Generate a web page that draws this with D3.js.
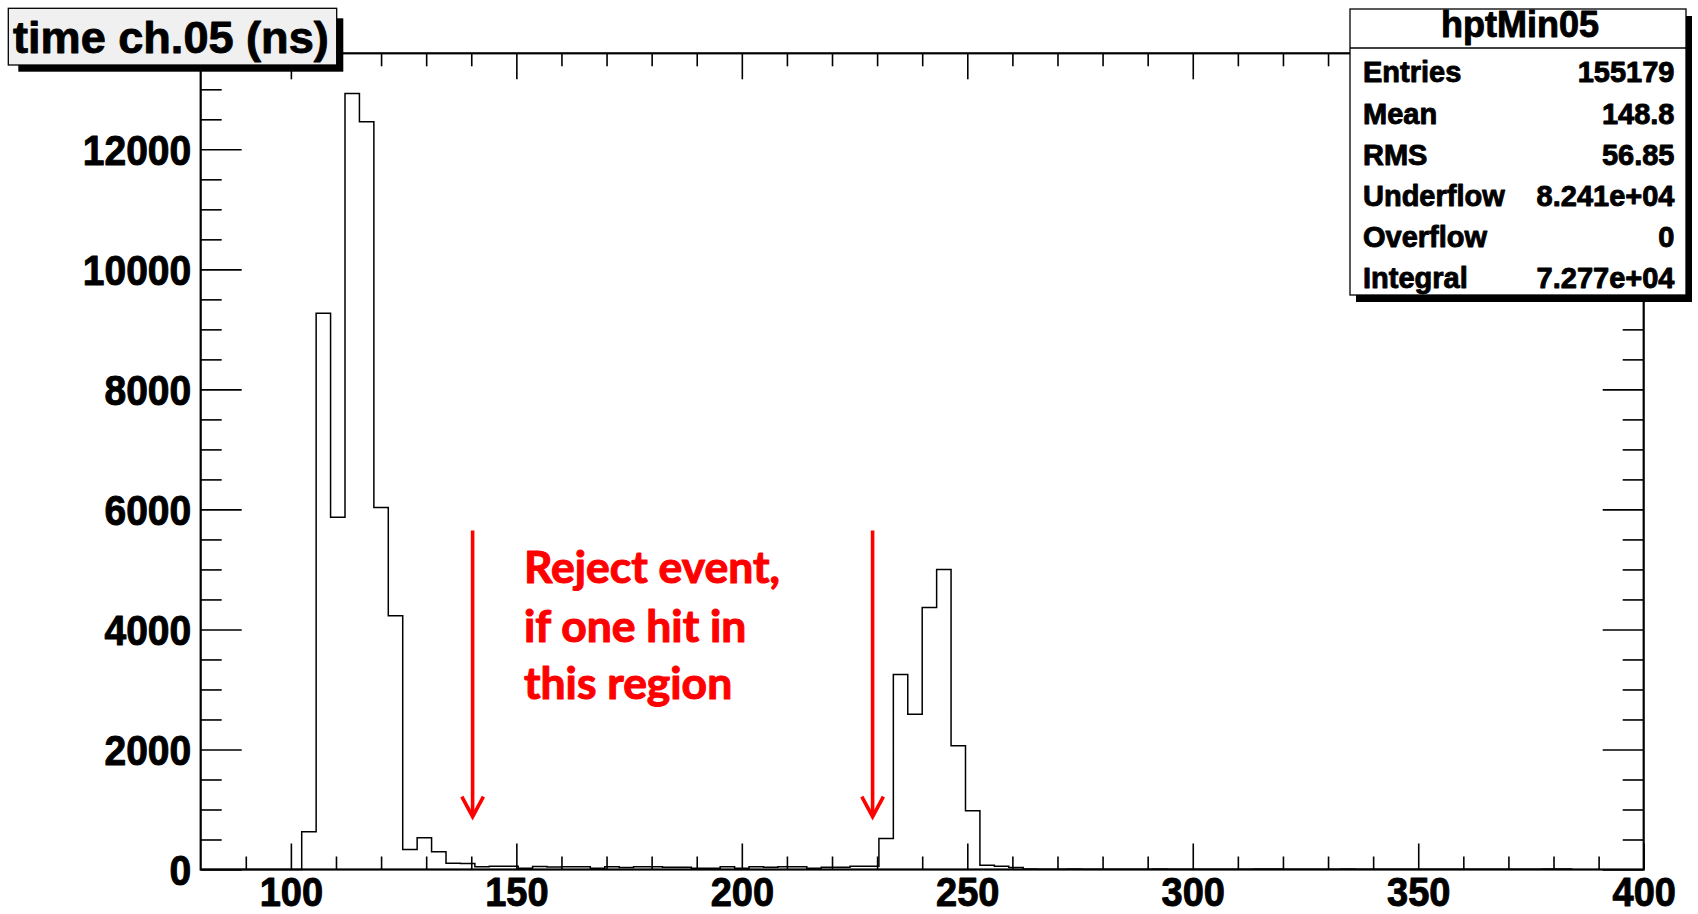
<!DOCTYPE html>
<html><head><meta charset="utf-8">
<script src="https://cdn.jsdelivr.net/npm/d3@7"></script>
<style>body{margin:0;background:#fff}svg{display:block}</style>
</head><body>
<svg id="c" width="1698" height="914"></svg>
<script>
// ---------------- data ----------------
const binStart = 80;      // ns, left edge of first drawn bin
const binWidth = 3.2;     // ns
const counts = [
  0,0,0,0,0,0,0,
  630,9270,5870,12930,12460,6030,4230,333,527,297,103,100,47,55,55,
  20,50,40,45,45,20,45,35,45,45,37,37,20,20,45,20,45,37,45,45,20,37,37,55,55,
  517,3250,2588,4367,5000,2060,977,70,55,35,
  8,6,5,8,4,6,5,3,4,10,5,3,4,6,5,3,8,10,4,3,5,4,10,6,3,4,5,3,4,6,3,5,4,3,5,4,8,10
];
const xDomain = [80, 400];
const yDomain = [0, 13600];
const xMajorTicks = [100,150,200,250,300,350,400];
const xMinorTicks = [90,110,120,130,140,160,170,180,190,210,220,230,240,260,270,280,290,310,320,330,340,360,370,380,390];
const yMajorTicks = [0,2000,4000,6000,8000,10000,12000];
const yMinorTicks = [500,1000,1500,2500,3000,3500,4500,5000,5500,6500,7000,7500,8500,9000,9500,10500,11000,11500,12500,13000,13500];
const titleText = "time ch.05 (ns)";
const statsTitle = "hptMin05";
const statsLabels = ["Entries","Mean","RMS","Underflow","Overflow","Integral"];
const statsValues = ["155179","148.8","56.85","8.241e+04","0","7.277e+04"];
const arrowX = [140.3, 229.0];       // ns
const arrowY = [5650, 880];          // counts: from, to (tip)
const noteLines = ["Reject event,","if one hit in","this region"];

// ---------------- layout ----------------
const svg = d3.select("#c");
const L = 200.7, R = 1643.7, T = 53.3, B = 869.5;
const x = d3.scaleLinear().domain(xDomain).range([L, R]);
const y = d3.scaleLinear().domain(yDomain).range([B, T]);
const FONT = "'Liberation Sans', Arial, Helvetica, sans-serif";
function rootText(sel, size) {
  return sel.style("font-family", FONT).style("font-weight", "bold").style("font-size", size + "px")
    .attr("fill", "#000").attr("stroke", "#000").attr("stroke-width", 0.9).attr("stroke-linejoin", "round");
}

// histogram
const pts = [[binStart, 0]];
counts.forEach((c, i) => {
  const x0 = binStart + i * binWidth, x1 = x0 + binWidth;
  pts.push([x0, c], [x1, c]);
});
pts.push([binStart + counts.length * binWidth, 0]);
svg.append("path")
  .attr("d", d3.line().x(d => x(d[0])).y(d => y(d[1]))(pts))
  .attr("fill", "none").attr("stroke", "#000").attr("stroke-width", 1.5);

// axes
function axisG(gen, tx, ty, vals, size, labels) {
  const a = gen.tickValues(vals).tickSizeInner(size).tickSizeOuter(0);
  a.tickFormat(labels ? d3.format("d") : "");
  const g = svg.append("g").attr("transform", `translate(${tx},${ty})`).call(a);
  g.select(".domain").remove();
  g.selectAll(".tick line").attr("stroke", "#000").attr("stroke-width", 1.6);
  return g;
}
const xb = axisG(d3.axisBottom(x), 0, B, xMajorTicks, -26, true);
axisG(d3.axisBottom(x), 0, B, xMinorTicks, -13, false);
axisG(d3.axisTop(x), 0, T, xMajorTicks, -26, false);
axisG(d3.axisTop(x), 0, T, xMinorTicks, -13, false);
const yl = axisG(d3.axisLeft(y), L, 0, yMajorTicks, -41, true);
axisG(d3.axisLeft(y), L, 0, yMinorTicks, -21, false);
axisG(d3.axisRight(y), R, 0, yMajorTicks, -41, false);
axisG(d3.axisRight(y), R, 0, yMinorTicks, -21, false);

rootText(xb.selectAll("text").attr("y", null).attr("dy", null)
  .attr("transform", "translate(0,36.5) scale(1,1.07)")
  .attr("text-anchor", "middle"), 38);
rootText(yl.selectAll("text").attr("x", null).attr("dy", null)
  .attr("transform", "translate(-9.5,15) scale(1,1.09)")
  .attr("text-anchor", "end"), 39);

// frame
svg.append("rect").attr("x", L).attr("y", T).attr("width", R - L).attr("height", B - T)
  .attr("fill", "none").attr("stroke", "#000").attr("stroke-width", 2.2);

// red annotation arrows
arrowX.forEach(v => {
  const ax = x(v), y0 = y(arrowY[0]), y1 = y(arrowY[1]);
  svg.append("line").attr("x1", ax).attr("x2", ax).attr("y1", y0).attr("y2", y1 - 2)
    .attr("stroke", "#ff0000").attr("stroke-width", 3.6);
  svg.append("path").attr("d", `M${ax - 10.8},${y1 - 20}L${ax},${y1}L${ax + 10.8},${y1 - 20}`)
    .attr("fill", "none").attr("stroke", "#ff0000").attr("stroke-width", 3.6).attr("stroke-linejoin", "miter");
});
// red note text
const noteG = svg.append("g");
const noteBase = [583.3, 641.7, 699.3];
const noteTexts = noteLines.map((s, i) => noteG.append("text")
  .attr("x", 524).attr("y", noteBase[i]).text(s)
  .style("font-family", "Lato, 'Open Sans', sans-serif").style("font-weight", "bold")
  .style("font-size", "40px").attr("fill", "#ff0000")
  .attr("stroke", "#ff0000").attr("stroke-width", 1.1).attr("stroke-linejoin", "round"));
const w0 = noteTexts[0].node().getComputedTextLength();
const fs = 40 * 256 / w0;
noteTexts.forEach(t => t.style("font-size", fs + "px"));

// title box
svg.append("rect").attr("x", 18.3).attr("y", 18.3).attr("width", 325).attr("height", 53.4).attr("fill", "#000");
svg.append("rect").attr("x", 8.3).attr("y", 8.3).attr("width", 328.4).attr("height", 56.7)
  .attr("fill", "#f0f0f0").attr("stroke", "#000").attr("stroke-width", 1.3);
rootText(svg.append("text").attr("x", 13).attr("y", 53).text(titleText), 45.1);

// stats box
const SX = 1350, SY = 9, SW = 336, SH = 286;
svg.append("rect").attr("x", SX + 6).attr("y", SY + 7).attr("width", SW).attr("height", SH).attr("fill", "#000");
svg.append("rect").attr("x", SX).attr("y", SY).attr("width", SW).attr("height", SH)
  .attr("fill", "#fff").attr("stroke", "#000").attr("stroke-width", 1.3);
svg.append("line").attr("x1", SX).attr("x2", SX + SW).attr("y1", 48).attr("y2", 48)
  .attr("stroke", "#000").attr("stroke-width", 1.3);
rootText(svg.append("text").attr("x", SX + SW / 2 + 2).attr("y", 36.5).attr("text-anchor", "middle").text(statsTitle), 36);
statsLabels.forEach((lab, i) => {
  const by = 82.4 + i * 41.1;
  rootText(svg.append("text").attr("x", 1363).attr("y", by).text(lab), 29);
  rootText(svg.append("text").attr("x", 1674.5).attr("y", by).attr("text-anchor", "end").text(statsValues[i]), 29);
});
</script>
</body></html>
